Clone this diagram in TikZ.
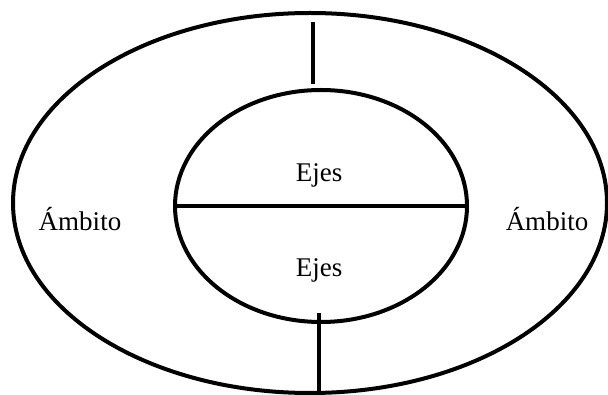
\documentclass[tikz,border=0pt]{standalone}
\usepackage{fontspec}
\setmainfont{Liberation Serif}
\usetikzlibrary{positioning, shapes.geometric}

\begin{document}
\begin{tikzpicture}[
    x=1pt, y=-1pt,
    line width=4pt,
    ring/.style={
        ellipse,
        draw,
        line width=4pt,
        inner sep=0pt,
        outer sep=0pt
    },
    label/.style={
        inner sep=0pt,
        font=\fontsize{27}{30}\selectfont
    }
]

    \useasboundingbox (0,0) rectangle (608,395);

    % Outer ring
    \node[ring, minimum width=594pt, minimum height=380pt] (outer) at (310,203) {};

    % Inner ring
    \node[ring, minimum width=292pt, minimum height=232pt] (inner) at (321,206) {};
    \draw (inner.west) -- (inner.east);

    % Texts
    \node[label] (ejes1) at (319,175) {Ejes};
    \node[label] (ejes2) at (319,270) {Ejes};
    \node[label] (amb1) at (80,219) {Ámbito};
    \node[label] (amb2) at (547,219) {Ámbito};

    % Ticks
    \coordinate (top1) at (313,22);
    \coordinate (top2) at (313,84);
    \coordinate (bot1) at (319,313);
    \coordinate (bot2) at (319,396);
    \draw (top1) -- (top2);
    \draw (bot1) -- (bot2);

\end{tikzpicture}
\end{document}
